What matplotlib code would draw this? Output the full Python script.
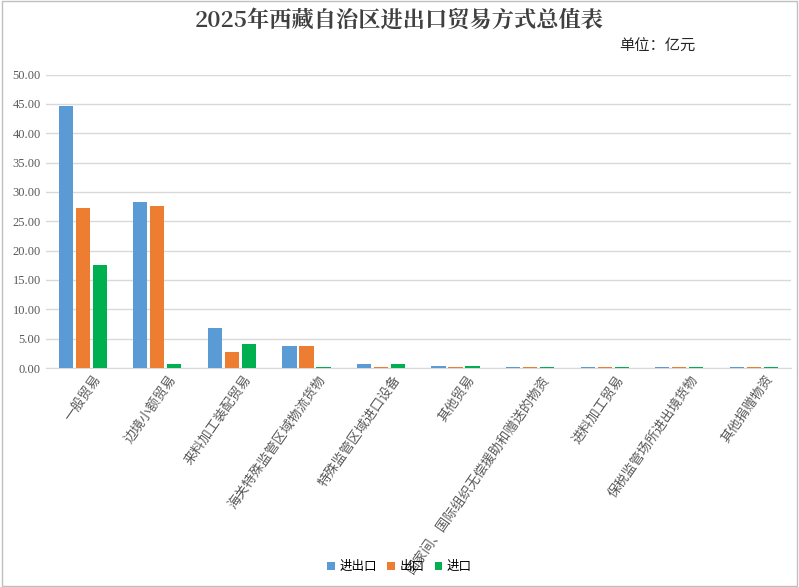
import numpy as np
import matplotlib.pyplot as plt
from matplotlib.patches import Rectangle

plt.rcParams['font.family'] = ['Noto Sans CJK SC', 'DejaVu Sans']

# data
categories = ['一般贸易', '边境小额贸易', '来料加工装配贸易', '海关特殊监管区域物流货物',
              '特殊监管区域进口设备', '其他贸易', '国家间、国际组织无偿援助和赠送的物资',
              '进料加工贸易', '保税监管场所进出境货物', '其他捐赠物资']
total = [44.7, 28.3, 6.8, 3.8, 0.7, 0.35, 0.15, 0.15, 0.15, 0.15]
export = [27.3, 27.6, 2.7, 3.8, 0.15, 0.15, 0.15, 0.15, 0.15, 0.15]
imports = [17.5, 0.7, 4.1, 0.2, 0.7, 0.3, 0.15, 0.15, 0.15, 0.15]
series_names = ['进出口', '出口', '进口']
colors = ['#5b9bd5', '#ed7d31', '#00b050']

fig = plt.figure(figsize=(7.99, 5.87), dpi=100)
ax = fig.add_axes([0.057, 0.373, 0.933, 0.5])
fig.patches.append(Rectangle((0.002, 0.002), 0.996, 0.996, transform=fig.transFigure,
                             fill=False, edgecolor='#bfbfbf', lw=1))

x = np.arange(len(categories))
w = 0.19
for i, (vals, name) in enumerate(zip([total, export, imports], series_names)):
    ax.bar(x + (i - 1) * w * 1.2, vals, w, color=colors[i], label=name, zorder=3)

ax.set_ylim(0, 50)
ax.set_xlim(-0.5, len(categories) - 0.5)
ax.set_yticks(np.arange(0, 51, 5))
ax.set_yticklabels([f'{v:.2f}' for v in np.arange(0, 51, 5)], fontsize=9, color='#595959',
                   family=['Liberation Serif'])
ax.grid(axis='y', color='#d9d9d9', lw=1, zorder=0)
ax.tick_params(length=0)
for s in ['top', 'right', 'left']:
    ax.spines[s].set_visible(False)
ax.spines['bottom'].set_color('#d9d9d9')
ax.set_xticks(x + 0.15)
ax.set_xticklabels(categories, rotation=55, ha='right', rotation_mode='anchor',
                   fontsize=9.5, color='#595959')

fig.text(0.5, 0.965, '2025年西藏自治区进出口贸易方式总值表', ha='center', va='center',
         fontsize=16, fontweight='bold', color='#404040',
         family=['Noto Serif CJK SC', 'Noto Sans CJK SC'])
fig.text(0.775, 0.922, '单位：亿元', ha='left', va='center', fontsize=11, color='#262626')
fig.legend(loc='center', bbox_to_anchor=(0.5, 0.035), ncol=3, frameon=False, fontsize=9,
           handlelength=0.6, handleheight=0.6, columnspacing=0.8, handletextpad=0.4)

fig.savefig('out.png', dpi=100)
